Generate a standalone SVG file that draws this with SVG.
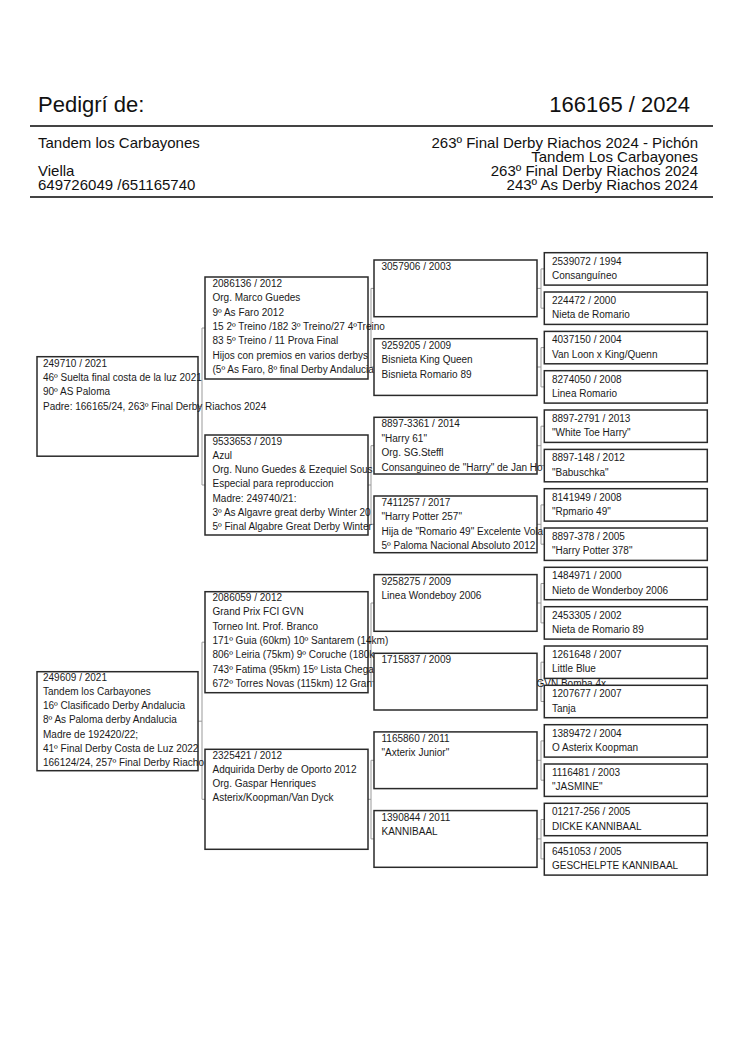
<svg xmlns="http://www.w3.org/2000/svg" width="750" height="1061" viewBox="0 0 750 1061">
<style>
.bg{fill:#fff}
.box{fill:#fff;stroke:#2a2a2a;stroke-width:1.5}
.t{font-family:"Liberation Sans",Arial,sans-serif;font-size:10px;fill:#1a1a1a}
.h1{font-family:"Liberation Sans",Arial,sans-serif;font-size:22px;fill:#111}
.h2{font-family:"Liberation Sans",Arial,sans-serif;font-size:15px;fill:#111}
.rule{stroke:#444;stroke-width:2}
.conn{stroke:#999;stroke-width:1;fill:none}
</style>
<rect class="bg" x="0" y="0" width="750" height="1061"/>
<g id="header">
<text class="h1" x="38" y="112">Pedigrí de:</text>
<text class="h1" x="690" y="112" text-anchor="end">166165 / 2024</text>
<line class="rule" x1="30" y1="126" x2="713" y2="126"/>
<text class="h2" x="38" y="148">Tandem los Carbayones</text>
<text class="h2" x="38" y="176"> Viella</text>
<text class="h2" x="38" y="190">649726049 /651165740</text>
<text class="h2" x="698" y="148" text-anchor="end">263º Final Derby Riachos 2024 - Pichón</text>
<text class="h2" x="698" y="162" text-anchor="end">Tandem Los Carbayones</text>
<text class="h2" x="698" y="176" text-anchor="end">263º Final Derby Riachos 2024</text>
<text class="h2" x="698" y="190" text-anchor="end">243º As Derby Riachos 2024</text>
<line class="rule" x1="30" y1="197" x2="713" y2="197"/>
</g>
<g id="connectors" class="conn">
<path d="M198,406.3H202M202,328V485M202,328H205M202,485H205"/>
<path d="M198,721.2H202M202,642.2V799.3M202,642.2H205M202,799.3H205"/>
<path d="M368,328H371M371,288.4V367M371,288.4H374M371,367H374"/>
<path d="M368,485H371M371,445.7V524.3M371,445.7H374M371,524.3H374"/>
<path d="M368,642.2H371M371,603V681.6M371,603H374M371,681.6H374"/>
<path d="M368,799.3H371M371,760.3V838.9M371,760.3H374M371,838.9H374"/>
<path d="M537,288.4H541M541,268.9V308.2M541,268.9H544M541,308.2H544"/>
<path d="M537,367H541M541,347.6V386.9M541,347.6H544M541,386.9H544"/>
<path d="M537,445.7H541M541,426.2V465.6M541,426.2H544M541,465.6H544"/>
<path d="M537,524.3H541M541,504.9V544.2M541,504.9H544M541,544.2H544"/>
<path d="M537,603H541M541,583.5V622.9M541,583.5H544M541,622.9H544"/>
<path d="M537,681.6H541M541,662.2V701.5M541,662.2H544M541,701.5H544"/>
<path d="M537,760.3H541M541,740.9V780.2M541,740.9H544M541,780.2H544"/>
<path d="M537,838.9H541M541,819.5V858.9M541,819.5H544M541,858.9H544"/>
</g>
<g id="n-249710">
<rect class="box" x="37" y="356.7" width="161" height="99.5"/>
<text class="t" x="43" y="366.7"><tspan x="43">249710 / 2021</tspan><tspan x="43" dy="14.3">46º Suelta final costa de la luz 2021</tspan><tspan x="43" dy="14.3">90º AS Paloma</tspan><tspan x="43" dy="14.3">Padre: 166165/24, 263º Final Derby Riachos 2024</tspan></text>
</g>
<g id="n-249609">
<rect class="box" x="37" y="671.7" width="161" height="99"/>
<text class="t" x="43" y="680.7"><tspan x="43">249609 / 2021</tspan><tspan x="43" dy="14.2">Tandem los Carbayones</tspan><tspan x="43" dy="14.2">16º Clasificado Derby Andalucia</tspan><tspan x="43" dy="14.2">8º As Paloma derby Andalucia</tspan><tspan x="43" dy="14.2">Madre de 192420/22;</tspan><tspan x="43" dy="14.2">41º Final Derby Costa de Luz 2022</tspan><tspan x="43" dy="14.2">166124/24, 257º Final Derby Riacho</tspan></text>
</g>
<g id="n-2086136">
<rect class="box" x="205" y="277" width="163" height="102"/>
<text class="t" x="212.5" y="287"><tspan x="212.5">2086136 / 2012</tspan><tspan x="212.5" dy="14.3">Org. Marco Guedes</tspan><tspan x="212.5" dy="14.3">9º As Faro 2012</tspan><tspan x="212.5" dy="14.3">15 2º Treino /182 3º Treino/27 4ºTreino</tspan><tspan x="212.5" dy="14.3">83 5º Treino / 11 Prova Final</tspan><tspan x="212.5" dy="14.3">Hijos con premios en varios derbys</tspan><tspan x="212.5" dy="14.3">(5º As Faro, 8º final Derby Andalucia</tspan></text>
</g>
<g id="n-9533653">
<rect class="box" x="205" y="435" width="163" height="100"/>
<text class="t" x="212.5" y="444.5"><tspan x="212.5">9533653 / 2019</tspan><tspan x="212.5" dy="14.3">Azul</tspan><tspan x="212.5" dy="14.3">Org. Nuno Guedes &amp; Ezequiel Sous</tspan><tspan x="212.5" dy="14.3">Especial para reproduccion</tspan><tspan x="212.5" dy="14.3">Madre: 249740/21:</tspan><tspan x="212.5" dy="14.3">3º As Algavre great derby Winter 20</tspan><tspan x="212.5" dy="14.3">5º Final Algabre Great Derby Winter</tspan></text>
</g>
<g id="n-2086059">
<rect class="box" x="205" y="591.7" width="163" height="101"/>
<text class="t" x="212.5" y="601"><tspan x="212.5">2086059 / 2012</tspan><tspan x="212.5" dy="14.3">Grand Prix FCI GVN</tspan><tspan x="212.5" dy="14.3">Torneo Int. Prof. Branco</tspan><tspan x="212.5" dy="14.3">171º Guia (60km) 10º Santarem (14km)</tspan><tspan x="212.5" dy="14.3">806º Leiria (75km) 9º Coruche (180k</tspan><tspan x="212.5" dy="14.3">743º Fatima (95km) 15º Lista Chega</tspan><tspan x="212.5" dy="14.3">672º Torres Novas (115km) 12 Gran</tspan><tspan x="536.5">GVN Bomba 4x</tspan></text>
</g>
<g id="n-2325421">
<rect class="box" x="205" y="749.3" width="163" height="100"/>
<text class="t" x="212.5" y="758.5"><tspan x="212.5">2325421 / 2012</tspan><tspan x="212.5" dy="14.3">Adquirida Derby de Oporto 2012</tspan><tspan x="212.5" dy="14.3">Org. Gaspar Henriques</tspan><tspan x="212.5" dy="14.3">Asterix/Koopman/Van Dyck</tspan></text>
</g>
<g id="n-3057906">
<rect class="box" x="374" y="260" width="163" height="56.7"/>
<text class="t" x="381.5" y="270">3057906 / 2003</text>
</g>
<g id="n-9259205">
<rect class="box" x="374" y="338.7" width="163" height="56.7"/>
<text class="t" x="381.5" y="348.7"><tspan x="381.5">9259205 / 2009</tspan><tspan x="381.5" dy="14.4">Bisnieta King Queen</tspan><tspan x="381.5" dy="14.4">Bisnieta Romario 89</tspan></text>
</g>
<g id="n-8897-3361">
<rect class="box" x="374" y="417.3" width="163" height="56.7"/>
<text class="t" x="381.5" y="427.3"><tspan x="381.5">8897-3361 / 2014</tspan><tspan x="381.5" dy="14.4">"Harry 61"</tspan><tspan x="381.5" dy="14.4">Org. SG.Steffl</tspan><tspan x="381.5" dy="14.4">Consanguineo de "Harry" de Jan Ho</tspan></text>
</g>
<g id="n-7411257">
<rect class="box" x="374" y="496" width="163" height="56.7"/>
<text class="t" x="381.5" y="506"><tspan x="381.5">7411257 / 2017</tspan><tspan x="381.5" dy="14.4">"Harry Potter 257"</tspan><tspan x="381.5" dy="14.4">Hija de "Romario 49" Excelente Vola</tspan><tspan x="381.5" dy="14.4">5º Paloma Nacional Absoluto 2012</tspan></text>
</g>
<g id="n-9258275">
<rect class="box" x="374" y="574.6" width="163" height="56.7"/>
<text class="t" x="381.5" y="584.6"><tspan x="381.5">9258275 / 2009</tspan><tspan x="381.5" dy="14.4">Linea Wondeboy 2006</tspan></text>
</g>
<g id="n-1715837">
<rect class="box" x="374" y="653.3" width="163" height="56.7"/>
<text class="t" x="381.5" y="663.3">1715837 / 2009</text>
</g>
<g id="n-1165860">
<rect class="box" x="374" y="731.9" width="163" height="56.7"/>
<text class="t" x="381.5" y="741.9"><tspan x="381.5">1165860 / 2011</tspan><tspan x="381.5" dy="14.4">"Axterix Junior"</tspan></text>
</g>
<g id="n-1390844">
<rect class="box" x="374" y="810.6" width="163" height="56.7"/>
<text class="t" x="381.5" y="820.6"><tspan x="381.5">1390844 / 2011</tspan><tspan x="381.5" dy="14.4">KANNIBAAL</tspan></text>
</g>
<g id="n-2539072"><rect class="box" x="544.3" y="252.7" width="163" height="32.4"/><text class="t" x="552" y="264.5"><tspan x="552">2539072 / 1994</tspan><tspan x="552" dy="14.4">Consanguíneo</tspan></text></g>
<g id="n-224472"><rect class="box" x="544.3" y="292" width="163" height="32.4"/><text class="t" x="552" y="303.8"><tspan x="552">224472 / 2000</tspan><tspan x="552" dy="14.4">Nieta de Romario</tspan></text></g>
<g id="n-4037150"><rect class="box" x="544.3" y="331.4" width="163" height="32.4"/><text class="t" x="552" y="343.2"><tspan x="552">4037150 / 2004</tspan><tspan x="552" dy="14.4">Van Loon x King/Quenn</tspan></text></g>
<g id="n-8274050"><rect class="box" x="544.3" y="370.7" width="163" height="32.4"/><text class="t" x="552" y="382.5"><tspan x="552">8274050 / 2008</tspan><tspan x="552" dy="14.4">Linea Romario</tspan></text></g>
<g id="n-8897-2791"><rect class="box" x="544.3" y="410" width="163" height="32.4"/><text class="t" x="552" y="421.8"><tspan x="552">8897-2791 / 2013</tspan><tspan x="552" dy="14.4">"White Toe Harry"</tspan></text></g>
<g id="n-8897-148"><rect class="box" x="544.3" y="449.4" width="163" height="32.4"/><text class="t" x="552" y="461.2"><tspan x="552">8897-148 / 2012</tspan><tspan x="552" dy="14.4">"Babuschka"</tspan></text></g>
<g id="n-8141949"><rect class="box" x="544.3" y="488.7" width="163" height="32.4"/><text class="t" x="552" y="500.5"><tspan x="552">8141949 / 2008</tspan><tspan x="552" dy="14.4">"Rpmario 49"</tspan></text></g>
<g id="n-8897-378"><rect class="box" x="544.3" y="528" width="163" height="32.4"/><text class="t" x="552" y="539.8"><tspan x="552">8897-378 / 2005</tspan><tspan x="552" dy="14.4">"Harry Potter 378"</tspan></text></g>
<g id="n-1484971"><rect class="box" x="544.3" y="567.3" width="163" height="32.4"/><text class="t" x="552" y="579.1"><tspan x="552">1484971 / 2000</tspan><tspan x="552" dy="14.4">Nieto de Wonderboy 2006</tspan></text></g>
<g id="n-2453305"><rect class="box" x="544.3" y="606.7" width="163" height="32.4"/><text class="t" x="552" y="618.5"><tspan x="552">2453305 / 2002</tspan><tspan x="552" dy="14.4">Nieta de Romario 89</tspan></text></g>
<g id="n-1261648"><rect class="box" x="544.3" y="646" width="163" height="32.4"/><text class="t" x="552" y="657.8"><tspan x="552">1261648 / 2007</tspan><tspan x="552" dy="14.4">Little Blue</tspan></text></g>
<g id="n-1207677"><rect class="box" x="544.3" y="685.3" width="163" height="32.4"/><text class="t" x="552" y="697.1"><tspan x="552">1207677 / 2007</tspan><tspan x="552" dy="14.4">Tanja</tspan></text></g>
<g id="n-1389472"><rect class="box" x="544.3" y="724.7" width="163" height="32.4"/><text class="t" x="552" y="736.5"><tspan x="552">1389472 / 2004</tspan><tspan x="552" dy="14.4">O Asterix Koopman</tspan></text></g>
<g id="n-1116481"><rect class="box" x="544.3" y="764" width="163" height="32.4"/><text class="t" x="552" y="775.8"><tspan x="552">1116481 / 2003</tspan><tspan x="552" dy="14.4">"JASMINE"</tspan></text></g>
<g id="n-01217-256"><rect class="box" x="544.3" y="803.3" width="163" height="32.4"/><text class="t" x="552" y="815.1"><tspan x="552">01217-256 / 2005</tspan><tspan x="552" dy="14.4">DICKE KANNIBAAL</tspan></text></g>
<g id="n-6451053"><rect class="box" x="544.3" y="842.7" width="163" height="32.4"/><text class="t" x="552" y="854.5"><tspan x="552">6451053 / 2005</tspan><tspan x="552" dy="14.4">GESCHELPTE KANNIBAAL</tspan></text></g>
</svg>
